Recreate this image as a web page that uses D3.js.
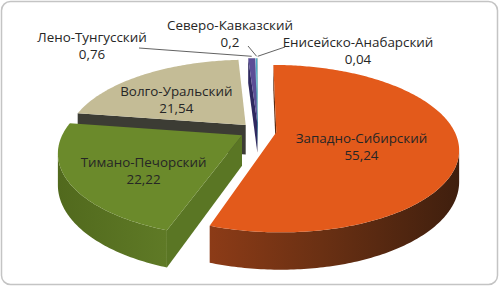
<!DOCTYPE html>
<html>
<head>
<meta charset="utf-8">
<script src="https://cdn.jsdelivr.net/npm/d3@7"></script>
<style>
  body { margin: 0; background: #fff; }
  svg { display: block; }
  text { font-family: "Open Sans", "Noto Sans", sans-serif; fill: #262626; }
</style>
</head>
<body>
<div class="pieChart"></div>
<script>
// basins and their share, %
const basins = ["Западно-Сибирский", "Тимано-Печорский", "Волго-Уральский",
                "Лено-Тунгусский", "Северо-Кавказский", "Енисейско-Анабарский"];
const shares = [55.24, 22.22, 21.54, 0.76, 0.2, 0.04];
const valueLabels = ["55,24", "22,22", "21,54", "0,76", "0,2", "0,04"];

const topColors  = ["#e35a1b", "#6b8a2b", "#c4bc96", "#5b4e96", "#4bacc6", "#f79646"];
const wallColors = ["#5e2c12", "#5a7624", "#3c3c34", "#2f2960", "#2d8aa3", "#b0601f"];

const width = 500, height = 287;
const svg = d3.select(".pieChart").append("svg")
  .attr("width", width)
  .attr("height", height);

// frame
svg.append("rect")
  .attr("x", 1.5).attr("y", 1.5)
  .attr("width", width - 4).attr("height", height - 4)
  .attr("rx", 9)
  .attr("fill", "#fff")
  .attr("stroke", "#c4c4c4")
  .attr("stroke-width", 1.5);

// fake 3d projection: u to the right, v to the front, h down (0 = top face, 1 = bottom)
const cx = 258, cy = 131, RX = 178, RY = 80, P = 0.194, EXPL = 0.104, DEPTH = 30;
const cam = [0, 1 / P];
function proj(u, v, h) {
  const s = 1 / (1 - P * v);
  return [cx + RX * u * s, cy + RY * v * s + DEPTH * h * s];
}

const pie = d3.pie().sort(null).startAngle(0).endAngle(2 * Math.PI);
const arcs = pie(shares);

const line = d3.line();

const defs = svg.append("defs");
const orangeGrad = defs.append("linearGradient").attr("id", "orangeWall");
orangeGrad.append("stop").attr("offset", "0%").attr("stop-color", "#8c3b17");
orangeGrad.append("stop").attr("offset", "45%").attr("stop-color", "#6a3013");
orangeGrad.append("stop").attr("offset", "100%").attr("stop-color", "#3f1f0e");
const greenGrad = defs.append("linearGradient").attr("id", "greenWall");
greenGrad.append("stop").attr("offset", "0%").attr("stop-color", "#51691d");
greenGrad.append("stop").attr("offset", "100%").attr("stop-color", "#5f7a26");
const wallFill = i => i === 0 ? "url(#orangeWall)" : i === 1 ? "url(#greenWall)" : wallColors[i];

function sliceGeom(d) {
  const mid = (d.startAngle + d.endAngle) / 2;
  const ou = EXPL * Math.sin(mid), ov = -EXPL * Math.cos(mid);
  const rim = a => [ou + Math.sin(a), ov - Math.cos(a)];
  const n = Math.max(2, Math.ceil((d.endAngle - d.startAngle) / 0.015));
  const angles = d3.range(n + 1).map(k => d.startAngle + (d.endAngle - d.startAngle) * k / n);
  return { mid, apex: [ou, ov], rim, angles };
}

const faces = svg.append("g");

// back slices first
const order = arcs.map((d, i) => {
  const g = sliceGeom(d);
  return { d, i, g, depth: g.apex[1] + 0.5 * (-Math.cos(g.mid)) };
}).sort((a, b) => a.depth - b.depth);

order.forEach(({ d, i, g }) => {
  const grp = faces.append("g").attr("class", "slice");
  const [au, av] = g.apex;

  // radial walls
  [[d.startAngle, d.startAngle - Math.PI / 2], [d.endAngle, d.endAngle + Math.PI / 2]].forEach(([a, na]) => {
    const nrm = [Math.sin(na), -Math.cos(na)];
    const dot = nrm[0] * (cam[0] - au) + nrm[1] * (cam[1] - av);
    if (dot <= 0) return;
    const r = g.rim(a);
    grp.append("path")
      .attr("d", line([proj(au, av, 0), proj(r[0], r[1], 0), proj(r[0], r[1], 1), proj(au, av, 1)]) + "Z")
      .attr("fill", wallColors[i]);
  });

  // outer wall, only the part facing the camera
  let run = [];
  const runs = [];
  g.angles.forEach(a => {
    const p = g.rim(a);
    const nrm = [Math.sin(a), -Math.cos(a)];
    const vis = nrm[0] * (cam[0] - p[0]) + nrm[1] * (cam[1] - p[1]) > 0;
    if (vis) run.push(p);
    else if (run.length) { runs.push(run); run = []; }
  });
  if (run.length) runs.push(run);
  runs.filter(r => r.length > 1).forEach(r => {
    const pts = r.map(p => proj(p[0], p[1], 0)).concat(r.slice().reverse().map(p => proj(p[0], p[1], 1)));
    grp.append("path")
      .attr("d", line(pts) + "Z")
      .attr("fill", wallFill(i));
  });

  // top face
  const top = [proj(au, av, 0)].concat(g.angles.map(a => { const p = g.rim(a); return proj(p[0], p[1], 0); }));
  grp.append("path")
    .attr("d", line(top) + "Z")
    .attr("fill", topColors[i]);
});

// label font fitted to the reference text width
const probe = svg.append("text").style("font-size", "12px").text("Енисейско-Анабарский");
const fontSize = 12 * 151 / probe.node().getComputedTextLength();
probe.remove();
const lineGap = 17;

const labels = svg.append("g").style("font-size", fontSize + "px").attr("text-anchor", "middle");

// inside labels: radius along the mid angle, small x nudge
const inside = { 0: [0.48, -1], 1: [0.6, 1], 2: [0.62, -3] };
Object.entries(inside).forEach(([k, [r, dx]]) => {
  const i = +k;
  const g = sliceGeom(arcs[i]);
  const [x, y] = proj(g.apex[0] + r * Math.sin(g.mid), g.apex[1] - r * Math.cos(g.mid), 0.25);
  const t = labels.append("text").attr("x", x + dx).attr("y", y - 3.5);
  t.append("tspan").attr("x", x + dx).text(basins[i]);
  t.append("tspan").attr("x", x + dx).attr("dy", lineGap).text(valueLabels[i]);
});

// outside labels for the thin slices, with leader lines
const outside = {
  3: { at: [92, 42], from: [139, 48] },
  4: { at: [230, 30], from: [248, 46] },
  5: { at: [358, 47], from: [285, 47] }
};
Object.entries(outside).forEach(([k, o]) => {
  const i = +k;
  const g = sliceGeom(arcs[i]);
  const r = g.rim(g.mid);
  const end = proj(r[0], r[1], 0);
  svg.append("line")
    .attr("x1", o.from[0]).attr("y1", o.from[1])
    .attr("x2", end[0]).attr("y2", end[1] - 2)
    .attr("stroke", "#3a3a3a")
    .attr("stroke-width", 0.8);
  const t = labels.append("text").attr("x", o.at[0]).attr("y", o.at[1]);
  t.append("tspan").attr("x", o.at[0]).text(basins[i]);
  t.append("tspan").attr("x", o.at[0]).attr("dy", lineGap).text(valueLabels[i]);
});
</script>
</body>
</html>
